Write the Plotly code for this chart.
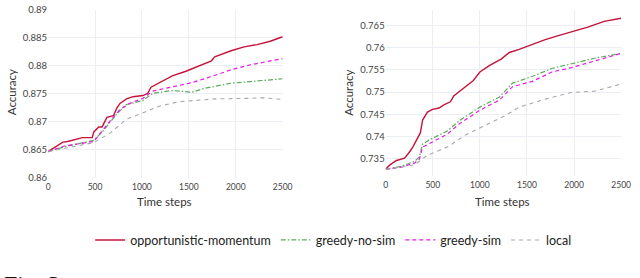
import plotly.graph_objects as go

# ---------- data: left panel ----------
L_om_x = [0, 157, 209, 313, 366, 470, 487, 540, 575, 627, 696, 731, 766, 836, 905, 1010, 1062, 1097, 1184, 1323, 1462, 1602, 1741, 1776, 1950, 2089, 2228, 2368, 2500]
L_om_y = [0.8647, 0.8664, 0.8665, 0.8669, 0.8672, 0.8672, 0.8682, 0.8691, 0.8691, 0.8708, 0.8711, 0.8724, 0.8733, 0.8741, 0.8745, 0.8747, 0.8751, 0.8762, 0.8770, 0.8782, 0.8790, 0.8799, 0.8809, 0.8816, 0.8827, 0.8834, 0.8838, 0.8844, 0.8852]

L_gns_x = [0, 209, 487, 592, 731, 836, 1010, 1114, 1323, 1532, 1671, 1950, 2159, 2298, 2500]
L_gns_y = [0.8647, 0.8657, 0.8667, 0.8685, 0.8714, 0.8731, 0.8738, 0.8751, 0.8756, 0.8753, 0.8760, 0.8769, 0.8772, 0.8774, 0.8777]

L_gs_x = [0, 174, 487, 557, 662, 766, 870, 1010, 1114, 1253, 1532, 1741, 1950, 2159, 2298, 2500]
L_gs_y = [0.8647, 0.8657, 0.8665, 0.8680, 0.8702, 0.8722, 0.8733, 0.8742, 0.8755, 0.8760, 0.8770, 0.8781, 0.8793, 0.8802, 0.8806, 0.8813]

L_loc_x = [0, 209, 487, 662, 836, 1010, 1184, 1393, 1602, 1776, 2124, 2298, 2500]
L_loc_y = [0.8647, 0.8654, 0.8663, 0.8680, 0.8705, 0.8716, 0.8728, 0.8736, 0.8738, 0.8741, 0.8742, 0.8743, 0.8740]

# ---------- data: right panel ----------
R_om_x = [0, 45, 115, 201, 253, 288, 323, 368, 392, 444, 497, 566, 618, 687, 722, 826, 931, 1000, 1104, 1226, 1313, 1417, 1556, 1694, 1833, 1972, 2146, 2319, 2500]
R_om_y = [0.7326, 0.7336, 0.7346, 0.7351, 0.7365, 0.7376, 0.7390, 0.7408, 0.7437, 0.7455, 0.7461, 0.7464, 0.7471, 0.7478, 0.7491, 0.7509, 0.7526, 0.7545, 0.7560, 0.7574, 0.7589, 0.7596, 0.7607, 0.7618, 0.7627, 0.7636, 0.7646, 0.7659, 0.7666]

R_gns_x = [0, 167, 306, 358, 392, 479, 653, 792, 1000, 1208, 1347, 1556, 1764, 1972, 2215, 2500]
R_gns_y = [0.7326, 0.7333, 0.7344, 0.7354, 0.7383, 0.7394, 0.7412, 0.7437, 0.7466, 0.7489, 0.7520, 0.7535, 0.7553, 0.7563, 0.7576, 0.7587]

R_gs_x = [0, 167, 306, 358, 392, 514, 653, 792, 1000, 1208, 1347, 1556, 1764, 1972, 2215, 2500]
R_gs_y = [0.7326, 0.7331, 0.7340, 0.7349, 0.7376, 0.7390, 0.7405, 0.7430, 0.7459, 0.7482, 0.7512, 0.7524, 0.7545, 0.7555, 0.7569, 0.7587]

R_loc_x = [0, 306, 444, 653, 861, 1069, 1278, 1417, 1694, 1972, 2215, 2500]
R_loc_y = [0.7326, 0.7336, 0.7358, 0.7376, 0.7405, 0.7427, 0.7448, 0.7466, 0.7484, 0.7499, 0.7502, 0.7518]

names = ["opportunistic-momentum", "greedy-no-sim", "greedy-sim", "local"]
colors = ["#c4143a", "#5cab5c", "#e619e6", "#a8a8a8"]
dashes = ["solid", "5px,2px,1.5px,2px", "4px,3px", "4px,4px"]
widths = [1.4, 1.2, 1.2, 1.1]

x_ticks = [0, 500, 1000, 1500, 2000, 2500]
left_yticks = [0.86, 0.865, 0.87, 0.875, 0.88, 0.885, 0.89]
right_yticks = [0.735, 0.74, 0.745, 0.75, 0.755, 0.76, 0.765]

W, H = 640, 278
FONT = "Lato"

fig = go.Figure()
left = [(L_om_x, L_om_y), (L_gns_x, L_gns_y), (L_gs_x, L_gs_y), (L_loc_x, L_loc_y)]
right = [(R_om_x, R_om_y), (R_gns_x, R_gns_y), (R_gs_x, R_gs_y), (R_loc_x, R_loc_y)]
for i, (xs, ys) in enumerate(left):
    fig.add_trace(go.Scatter(x=xs, y=ys, mode="lines", name=names[i],
                             line=dict(color=colors[i], dash=dashes[i], width=widths[i]),
                             xaxis="x", yaxis="y", legendgroup=names[i], showlegend=True))
for i, (xs, ys) in enumerate(right):
    fig.add_trace(go.Scatter(x=xs, y=ys, mode="lines", name=names[i],
                             line=dict(color=colors[i], dash=dashes[i], width=widths[i]),
                             xaxis="x2", yaxis="y2", legendgroup=names[i], showlegend=False))

def px_x(p):
    return p / W

def px_y(p):
    return 1 - p / H

grid = "#ebeff5"
xfont = dict(family=FONT, size=8.5, color="#444")
yfont = dict(family=FONT, size=9.5, color="#444")
common_x = dict(range=[0, 2500], tickvals=x_ticks, showgrid=True, gridcolor=grid, zeroline=False,
                showline=False, tickfont=xfont, ticks="", ticklabelstandoff=3, ticklabeloverflow="allow")
common_y = dict(showgrid=True, gridcolor=grid, zeroline=False, showline=False, tickfont=yfont, ticks="",
                ticklabeloverflow="allow")

fig.update_layout(
    width=W, height=H,
    margin=dict(l=0, r=0, t=0, b=0),
    paper_bgcolor="white", plot_bgcolor="white",
    font=dict(family=FONT, color="#333"),
    xaxis=dict(domain=[px_x(47), px_x(286)], anchor="y", **common_x),
    yaxis=dict(domain=[px_y(179), px_y(4)], anchor="x", range=[0.86, 0.89],
               tickvals=left_yticks, ticktext=["0.86", "0.865", "0.87", "0.875", "0.88", "0.885", "0.89"], **common_y),
    xaxis2=dict(domain=[px_x(391), px_x(631)], anchor="y2", **common_x),
    yaxis2=dict(domain=[px_y(177), px_y(4)], anchor="x2", range=[0.7311, 0.7685],
                tickvals=right_yticks, ticktext=["0.735", "0.74", "0.745", "0.75", "0.755", "0.76", "0.765"], **common_y),
    legend=dict(orientation="h", x=px_x(338), xanchor="center", y=px_y(244), yanchor="middle",
                font=dict(family=FONT, size=12.5, color="#222"), bgcolor="rgba(0,0,0,0)",
                itemwidth=30, tracegroupgap=0),
    showlegend=True,
)

ann_font = dict(family=FONT, size=11.5, color="#333")
fig.add_annotation(text="Accuracy", x=px_x(10), y=px_y(90), xref="paper", yref="paper",
                   xanchor="center", yanchor="middle",
                   showarrow=False, textangle=-90, font=ann_font)
fig.add_annotation(text="Accuracy", x=px_x(353), y=px_y(90), xref="paper", yref="paper",
                   xanchor="center", yanchor="middle",
                   showarrow=False, textangle=-90, font=ann_font)
fig.add_annotation(text="Time steps", x=px_x(166), y=px_y(204), xref="paper", yref="paper",
                   xanchor="center", yanchor="middle",
                   showarrow=False, font=ann_font)
fig.add_annotation(text="Time steps", x=px_x(510), y=px_y(204), xref="paper", yref="paper",
                   xanchor="center", yanchor="middle",
                   showarrow=False, font=ann_font)
fig.add_annotation(text="Fig. 3", x=0, xanchor="left", y=px_y(273.5), yanchor="top", xref="paper", yref="paper",
                   showarrow=False, font=dict(family="Liberation Serif", size=24, color="#111"))

fig.write_html("out.html", config={"displayModeBar": False},
               post_script="document.body.style.margin='0';document.body.style.overflow='hidden';")
